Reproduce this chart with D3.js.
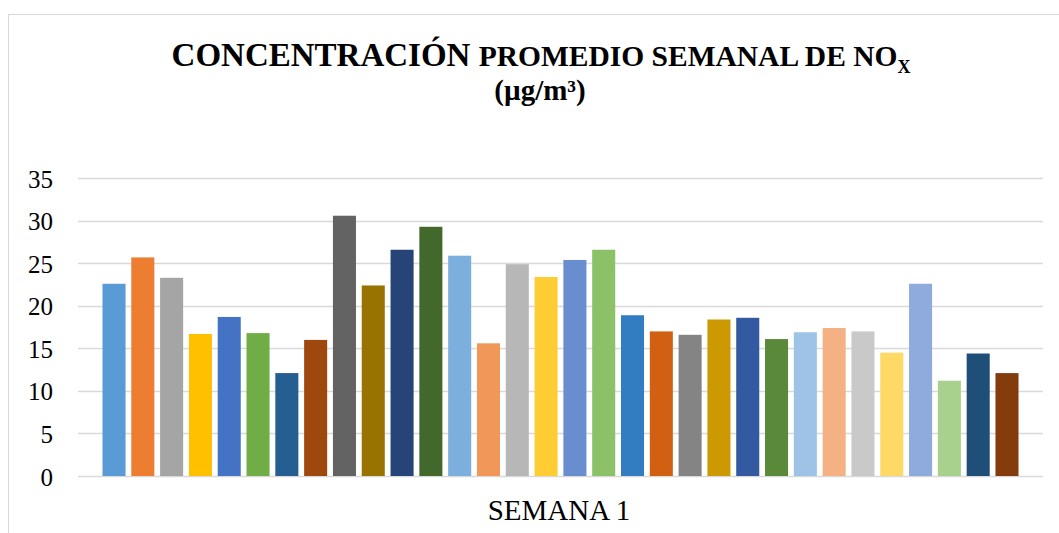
<!DOCTYPE html>
<html>
<head>
<meta charset="utf-8">
<script src="https://cdn.jsdelivr.net/npm/d3@7"></script>
<style>
  html, body { margin: 0; padding: 0; background: #fff; }
  svg { display: block; }
</style>
</head>
<body>
<svg id="chart" width="1059" height="533"></svg>
<script>
// Weekly NOx concentration per monitoring point (µg/m³), week 1
const categories = ["SEMANA 1"];
const seriesNames = d3.range(1, 33).map(i => "Punto " + i);
const values = [22.6, 25.7, 23.3, 16.7, 18.7, 16.8, 12.1, 16.0,
                30.6, 22.4, 26.6, 29.3, 25.9, 15.6, 24.9, 23.4,
                25.4, 26.6, 18.9, 17.0, 16.6, 18.4, 18.6, 16.1,
                16.9, 17.4, 17.0, 14.5, 22.6, 11.2, 14.4, 12.1];
const seriesColors = ["#5B9BD5", "#ED7D31", "#A5A5A5", "#FFC000", "#4472C4", "#70AD47", "#255E91", "#9E480E",
                      "#636363", "#997300", "#264478", "#43682B", "#7CAFDD", "#F1975A", "#B7B7B7", "#FFCD33",
                      "#698ED0", "#8CC168", "#327DC2", "#D26012", "#848484", "#CC9A00", "#335AA1", "#5A8A39",
                      "#9DC3E6", "#F4B183", "#C9C9C9", "#FFD966", "#8FAADC", "#A9D18E", "#1F4E79", "#843C0C"];
const yTicks = [0, 5, 10, 15, 20, 25, 30, 35];

const svg = d3.select("#chart");
const serif = "'Liberation Serif', 'Times New Roman', serif";

// chart frame
svg.append("rect")
  .attr("x", 8.5).attr("y", 14.5)
  .attr("width", 1100).attr("height", 600)
  .attr("fill", "#fff").attr("stroke", "#d9d9d9").attr("stroke-width", 1);

const plot = { left: 78, right: 1043, top: 178.3, bottom: 476 };

const y = d3.scaleLinear().domain([0, 35]).range([plot.bottom, plot.top]);
const x = d3.scaleBand().domain(seriesNames)
  .range([plot.left, plot.right]).paddingInner(0.2).paddingOuter(0.85);

// gridlines
svg.append("g").selectAll("line").data(yTicks).join("line")
  .attr("x1", plot.left).attr("x2", plot.right)
  .attr("y1", d => Math.round(y(d)) + 0.5).attr("y2", d => Math.round(y(d)) + 0.5)
  .attr("stroke", "#d9d9d9").attr("stroke-width", 1.5);

// y axis labels
const yAxis = d3.axisLeft(y).tickValues(yTicks).tickSize(0).tickPadding(0);
const gy = svg.append("g").attr("transform", "translate(53,0)").call(yAxis);
gy.select(".domain").remove();
gy.selectAll("text")
  .attr("font-family", serif).attr("font-size", 25).attr("fill", "#000")
  .attr("dy", "0.36em");

// bars
svg.append("g").selectAll("rect").data(values).join("rect")
  .attr("x", (d, i) => x(seriesNames[i]))
  .attr("width", x.bandwidth())
  .attr("y", d => y(d))
  .attr("height", d => y(0) - y(d))
  .attr("fill", (d, i) => seriesColors[i]);

// category label
svg.append("text")
  .attr("x", 559).attr("y", 520)
  .attr("text-anchor", "middle")
  .attr("font-family", serif).attr("font-size", 29).attr("fill", "#000")
  .text(categories[0]);

// title
const title = svg.append("text")
  .attr("x", 541).attr("y", 66)
  .attr("text-anchor", "middle")
  .attr("font-family", serif).attr("font-weight", "bold").attr("fill", "#000");
title.append("tspan").attr("font-size", 33).text("CONCENTRACIÓN ");
title.append("tspan").attr("font-size", 29.5).text("PROMEDIO SEMANAL DE NO");
title.append("tspan").attr("font-size", 18).attr("dy", 7).text("X");

svg.append("text")
  .attr("x", 540).attr("y", 100)
  .attr("text-anchor", "middle")
  .attr("font-family", serif).attr("font-weight", "bold").attr("font-size", 29)
  .attr("fill", "#000")
  .text("(µg/m³)");
</script>
</body>
</html>
